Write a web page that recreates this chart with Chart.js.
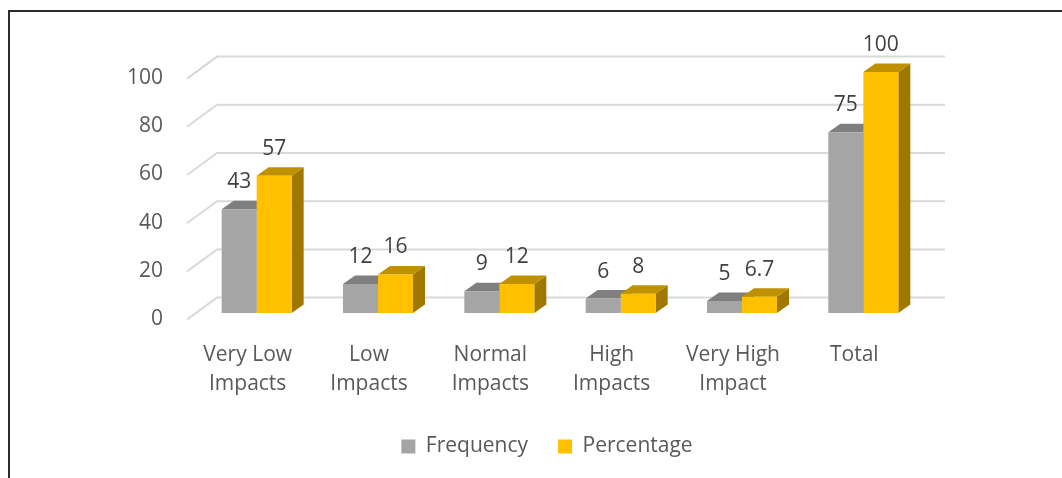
<!DOCTYPE html>
<html>
<head>
<meta charset="utf-8">
<title>Impacts</title>
<script src="https://cdn.jsdelivr.net/npm/chart.js@4.4.1/dist/chart.umd.min.js"></script>
<style>
    html, body { margin: 0; padding: 0; background: #fff; overflow: hidden; }
    #frame {
        position: absolute; left: 8px; top: 10px;
        width: 1100px; height: 520px;
        border: 2px solid #2b2b2b;
    }
    #myChart { position: absolute; left: 0; top: 0; }
</style>
</head>
<body>
<div id="frame"></div>
<canvas id="myChart" width="1062" height="478"></canvas>
<script>
// categories and series
const categories = [
    ['Very Low', 'Impacts'],
    ['Low', 'Impacts'],
    ['Normal', 'Impacts'],
    ['High', 'Impacts'],
    ['Very High', 'Impact'],
    'Total'
];
const frequency = [43, 12, 9, 6, 5, 75];
const percentage = [57, 16, 12, 8, 6.7, 100];
const yTicks = [0, 20, 40, 60, 80, 100];

const FONT = "'Open Sans', 'Liberation Sans', sans-serif";
const TEXT_COLOR = '#595959';

// offsets used to fake the 3D look (bar plane -> back wall / front edge / bar depth)
const wall = { x: 21, y: -15.4 };
const front = { x: -9, y: 6.6 };
const depth = { x: 12, y: -8.5 };

const shades = {
    '#A5A5A5': { top: '#7F7F7F', side: '#6E6E6E' },
    '#FFC000': { top: '#BF9000', side: '#A07800' }
};

function poly(ctx, pts, color) {
    ctx.beginPath();
    ctx.moveTo(pts[0][0], pts[0][1]);
    for (let i = 1; i < pts.length; i++) ctx.lineTo(pts[i][0], pts[i][1]);
    ctx.closePath();
    ctx.fillStyle = color;
    ctx.fill();
}

const bars3d = {
    id: 'bars3d',
    beforeDatasetsDraw(chart) {
        const ctx = chart.ctx;
        const area = chart.chartArea;
        const y = chart.scales.y;

        // back wall grid lines with the slanted piece on the left
        ctx.save();
        ctx.strokeStyle = '#D9D9D9';
        ctx.lineWidth = 2;
        yTicks.forEach(function (v) {
            const py = y.getPixelForValue(v);
            ctx.beginPath();
            ctx.moveTo(area.left + front.x, py + front.y);
            ctx.lineTo(area.left + wall.x, py + wall.y);
            ctx.lineTo(area.right + wall.x, py + wall.y);
            ctx.stroke();
        });

        // side and top faces, the fronts are drawn by chart.js afterwards
        chart.data.datasets.forEach(function (ds, di) {
            const meta = chart.getDatasetMeta(di);
            const shade = shades[ds.backgroundColor];
            meta.data.forEach(function (bar) {
                const p = bar.getProps(['x', 'y', 'base', 'width'], true);
                const x0 = p.x - p.width / 2;
                const x1 = p.x + p.width / 2;
                poly(ctx, [
                    [x1, p.y], [x1 + depth.x, p.y + depth.y],
                    [x1 + depth.x, p.base + depth.y], [x1, p.base]
                ], shade.side);
                poly(ctx, [
                    [x0, p.y], [x1, p.y],
                    [x1 + depth.x, p.y + depth.y], [x0 + depth.x, p.y + depth.y]
                ], shade.top);
            });
        });
        ctx.restore();
    },
    afterDatasetsDraw(chart) {
        // value labels above each bar
        const ctx = chart.ctx;
        ctx.save();
        ctx.font = '21px ' + FONT;
        ctx.fillStyle = '#404040';
        ctx.textAlign = 'center';
        ctx.textBaseline = 'middle';
        chart.data.datasets.forEach(function (ds, di) {
            chart.getDatasetMeta(di).data.forEach(function (bar, i) {
                ctx.fillText(String(ds.data[i]), bar.x, bar.y - 27);
            });
        });
        ctx.restore();
    }
};

const ctx = document.getElementById('myChart').getContext('2d');
const myChart = new Chart(ctx, {
    type: 'bar',
    data: {
        labels: categories,
        datasets: [{
            label: 'Frequency',
            data: frequency,
            backgroundColor: '#A5A5A5',
            borderWidth: 0
        }, {
            label: 'Percentage',
            data: percentage,
            backgroundColor: '#FFC000',
            borderWidth: 0
        }]
    },
    options: {
        responsive: false,
        animation: false,
        devicePixelRatio: 1,
        barPercentage: 1,
        categoryPercentage: 0.577,
        layout: { padding: { top: 72, left: 40, right: 8, bottom: 11 } },
        plugins: {
            tooltip: { enabled: false },
            legend: {
                position: 'bottom',
                labels: {
                    boxWidth: 14,
                    boxHeight: 14,
                    padding: 30,
                    color: TEXT_COLOR,
                    font: { family: FONT, size: 21 }
                }
            }
        },
        scales: {
            x: {
                grid: { display: false, drawTicks: false },
                border: { display: false },
                ticks: {
                    color: TEXT_COLOR,
                    font: { family: FONT, size: 21, lineHeight: 1.4 },
                    padding: 27,
                    labelOffset: -9,
                    maxRotation: 0,
                    autoSkip: false
                },
                afterFit(scale) { scale.height = 93; }
            },
            y: {
                min: 0,
                max: 100,
                grid: { display: false, drawTicks: false },
                border: { display: false },
                ticks: {
                    stepSize: 20,
                    color: TEXT_COLOR,
                    font: { family: FONT, size: 21 },
                    padding: 33,
                    labelOffset: 6
                },
                afterFit(scale) { scale.width = 156; }
            },
            // empty axis that only reserves room on the right
            yRight: {
                position: 'right',
                grid: { display: false, drawTicks: false },
                border: { display: false },
                ticks: { display: false },
                afterFit(scale) { scale.width = 130; }
            }
        }
    },
    plugins: [bars3d]
});
</script>
</body>
</html>
